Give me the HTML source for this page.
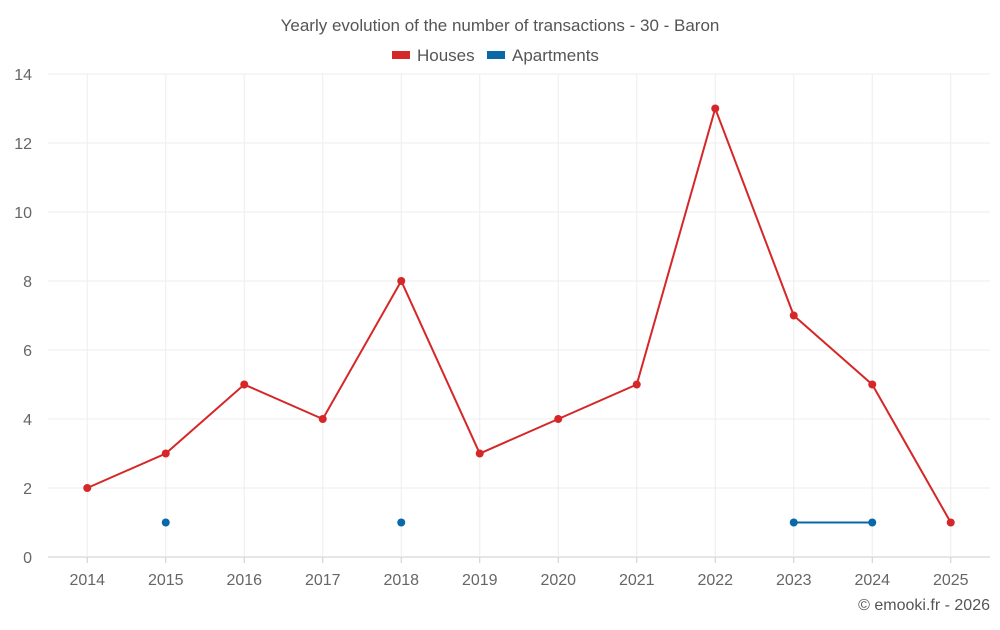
<!DOCTYPE html>
<html><head><meta charset="utf-8"><style>
body{margin:0;background:#fff;font-family:"Liberation Sans",sans-serif;}
svg text{font-family:"Liberation Sans",sans-serif;}
</style></head><body>
<svg id="c" width="1000" height="625">
<text x="500" y="31" text-anchor="middle" font-size="17" fill="#555">Yearly evolution of the number of transactions - 30 - Baron</text>
<g><rect x="392" y="51" width="18" height="8" fill="#d62728"/><text x="417" y="61" font-size="17" fill="#555">Houses</text></g>
<g><rect x="487" y="51" width="18" height="8" fill="#0868a8"/><text x="512" y="61" font-size="17" fill="#555">Apartments</text></g>
<g id="grid"></g><g id="axes"></g><g id="marks"></g>
<text x="990" y="610" text-anchor="end" font-size="16" fill="#555">© emooki.fr - 2026</text>
</svg>
<script>
const categories=["2014","2015","2016","2017","2018","2019","2020","2021","2022","2023","2024","2025"];
const houses=[2,3,5,4,8,3,4,5,13,7,5,1];
const apartments=[null,1,null,null,1,null,null,null,null,1,1,null];
const yTicks=[0,2,4,6,8,10,12,14];
const L=48,R=990,T=74,B=557,yMax=14;
const step=(R-L)/categories.length;
const x=i=>L+step*(i+0.5);
const y=v=>B-(B-T)*v/yMax;
const NS="http://www.w3.org/2000/svg";
function mk(tag,attrs,parent){const e=document.createElementNS(NS,tag);for(const k in attrs)e.setAttribute(k,attrs[k]);document.getElementById(parent).appendChild(e);return e;}
yTicks.forEach(t=>{
  const g=mk("line",{x1:L,x2:R,y1:y(t),y2:y(t),stroke:t===0?"#ccc":"#eee"},"grid");
  
  
  const tx=mk("text",{x:32,y:y(t)+6,"text-anchor":"end","font-size":"16",fill:"#666"},"axes");
  tx.textContent=t;
  
  
});
categories.forEach((c,i)=>{
  const g=mk("line",{x1:x(i),x2:x(i),y1:T,y2:B,stroke:"#eee"},"grid");
  
  
  const tk=mk("line",{x1:x(i),x2:x(i),y1:B,y2:B+6,stroke:"#ccc"},"axes");
  
  
  const tx=mk("text",{x:x(i),y:585,"text-anchor":"middle","font-size":"16",fill:"#666"},"axes");
  tx.textContent=c;
  
  
});
function series(data,color,name){
  let seg=[];
  const segs=[];
  data.forEach((v,i)=>{if(v==null){if(seg.length)segs.push(seg);seg=[];}else seg.push([x(i),y(v)]);});
  if(seg.length)segs.push(seg);
  segs.forEach(s=>{if(s.length>1){
    const p=mk("polyline",{points:s.map(q=>q.join(",")).join(" "),fill:"none",stroke:color,"stroke-width":2},"marks");
    
    
  }});
  data.forEach((v,i)=>{if(v!=null){
    const c=mk("circle",{cx:x(i),cy:y(v),r:4,fill:color},"marks");
    
    
  }});
}
series(houses,"#d62728","houses");
series(apartments,"#0868a8","apartments");
</script>
</body></html>
